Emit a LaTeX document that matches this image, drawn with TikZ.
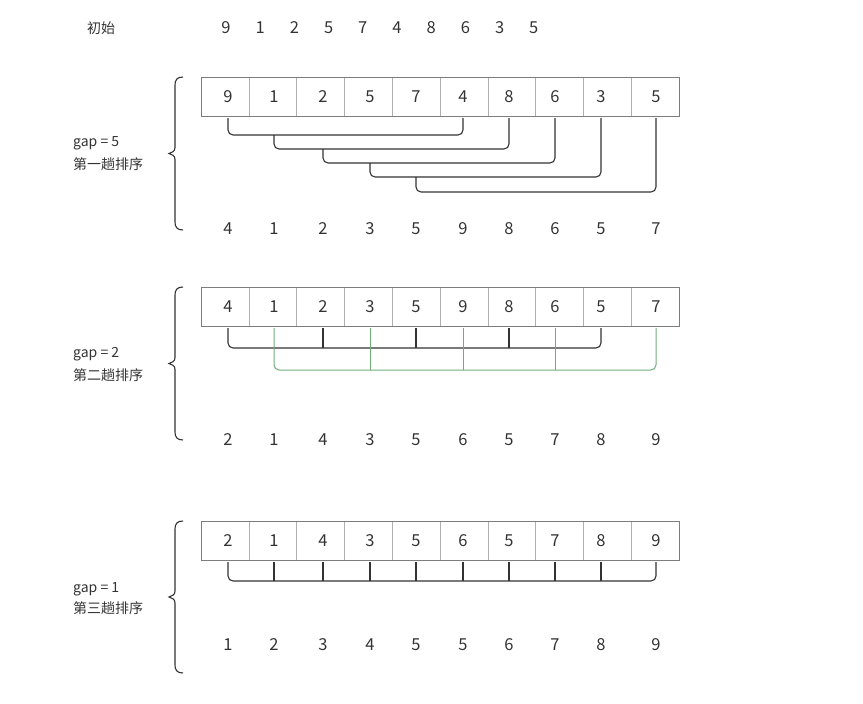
\documentclass[tikz,border=0pt]{standalone}
\usepackage{fontspec}
\setmainfont{Noto Sans CJK SC}
\usetikzlibrary{positioning,calc}
\definecolor{txtgray}{RGB}{51,51,51}
\definecolor{cellline}{RGB}{125,125,125}
\definecolor{celldiv}{RGB}{175,175,175}
\definecolor{gapgreen}{RGB}{112,172,122}

\tikzset{
  num/.style={text=txtgray, inner sep=0pt, font=\fontsize{16.5}{18}\selectfont},
  lbl/.style={text=txtgray, inner sep=0pt, anchor=west, font=\fontsize{14}{16}\selectfont},
  link/.style={draw=txtgray, line width=1.1pt, rounded corners=5pt},
  glink/.style={draw=gapgreen, line width=1pt, rounded corners=5pt},
}
% column positions of the ten numbers
\def\colx{{228,274,323,370,416,463,509,555,601,656}}
% left curly brace: #1 top, #2 bottom
\newcommand{\sortbrace}[2]{%
  \pgfmathsetmacro\bmid{(#1+#2)/2}
  \draw[txtgray, line width=1.1pt]
    (183,#1) .. controls (177,#1) and (175,#1+3) .. (175,#1+8)
    -- (175,\bmid-6) .. controls (175,\bmid-2) and (172,\bmid-1) .. (169,\bmid)
    .. controls (172,\bmid+1) and (175,\bmid+2) .. (175,\bmid+6)
    -- (175,#2-8) .. controls (175,#2-3) and (177,#2) .. (183,#2);}
% row of ten cells with top edge at #1
\newcommand{\cellrow}[1]{%
  \draw[cellline] (201,#1) rectangle (679,#1+39);
  \foreach \k in {1,...,9} \draw[celldiv] ({201+47.8*\k},#1+0.5) -- ++(0,38);}

\begin{document}
\begin{tikzpicture}[x=1pt,y=-1pt]
  \useasboundingbox (0,0) rectangle (863,704);

  % initial sequence
  \node[lbl] (init) at (87,28) {初始};
  \foreach \v [count=\i] in {9,1,2,5,7,4,8,6,3,5}
    \node[num] (t\i) at ({226+34.2*(\i-1)},28) {\v};

  % ---- first pass, gap = 5
  \sortbrace{77}{230}
  \node[lbl] (g1) at (73,143) {gap = 5};
  \node[lbl] (p1) at (73,164) {第一趟排序};
  \cellrow{77}
  \foreach \v [count=\i] in {9,1,2,5,7,4,8,6,3,5} {
    \pgfmathsetmacro\cx{\colx[\i-1]}
    \node[num] (a\i) at (\cx,97) {\v};
  }
  \foreach \v [count=\i] in {4,1,2,3,5,9,8,6,5,7} {
    \pgfmathsetmacro\cx{\colx[\i-1]}
    \node[num] (ra\i) at (\cx,229) {\v};
  }
  \coordinate (abot) at (0,118);
  % left leg hangs from the bracket above it
  \foreach \p/\q/\top/\lv in {1/6/118/135,2/7/135/149,3/8/149/163,4/9/163/177,5/10/177/192}
    \draw[link] (a\p |- 0,\top) -- (a\p |- 0,\lv) -- (a\q |- 0,\lv) -- (a\q |- abot);

  % ---- second pass, gap = 2
  \sortbrace{287}{440}
  \node[lbl] (g2) at (73,354) {gap = 2};
  \node[lbl] (p2) at (73,375) {第二趟排序};
  \cellrow{287}
  \foreach \v [count=\i] in {4,1,2,3,5,9,8,6,5,7} {
    \pgfmathsetmacro\cx{\colx[\i-1]}
    \node[num] (b\i) at (\cx,307) {\v};
  }
  \foreach \v [count=\i] in {2,1,4,3,5,6,5,7,8,9} {
    \pgfmathsetmacro\cx{\colx[\i-1]}
    \node[num] (rb\i) at (\cx,440) {\v};
  }
  \coordinate (bbot) at (0,328);
  % even positions
  \draw[link] (b1 |- bbot) -- (b1 |- 0,348) -- (b9 |- 0,348) -- (b9 |- bbot);
  \foreach \k in {3,5,7} \draw[link] (b\k |- bbot) -- (b\k |- 0,348);
  % odd positions
  \draw[glink] (b2 |- bbot) -- (b2 |- 0,370) -- (b10 |- 0,370) -- (b10 |- bbot);
  \foreach \k in {4,6,8} \draw[glink] (b\k |- bbot) -- (b\k |- 0,370);

  % ---- third pass, gap = 1
  \sortbrace{521}{673}
  \node[lbl] (g3) at (73,589) {gap = 1};
  \node[lbl] (p3) at (73,608) {第三趟排序};
  \cellrow{521}
  \foreach \v [count=\i] in {2,1,4,3,5,6,5,7,8,9} {
    \pgfmathsetmacro\cx{\colx[\i-1]}
    \node[num] (c\i) at (\cx,541) {\v};
  }
  \foreach \v [count=\i] in {1,2,3,4,5,5,6,7,8,9} {
    \pgfmathsetmacro\cx{\colx[\i-1]}
    \node[num] (rc\i) at (\cx,645) {\v};
  }
  \coordinate (cbot) at (0,562);
  \draw[link] (c1 |- cbot) -- (c1 |- 0,581) -- (c10 |- 0,581) -- (c10 |- cbot);
  \foreach \k in {2,...,9} \draw[link] (c\k |- cbot) -- (c\k |- 0,581);
\end{tikzpicture}
\end{document}
